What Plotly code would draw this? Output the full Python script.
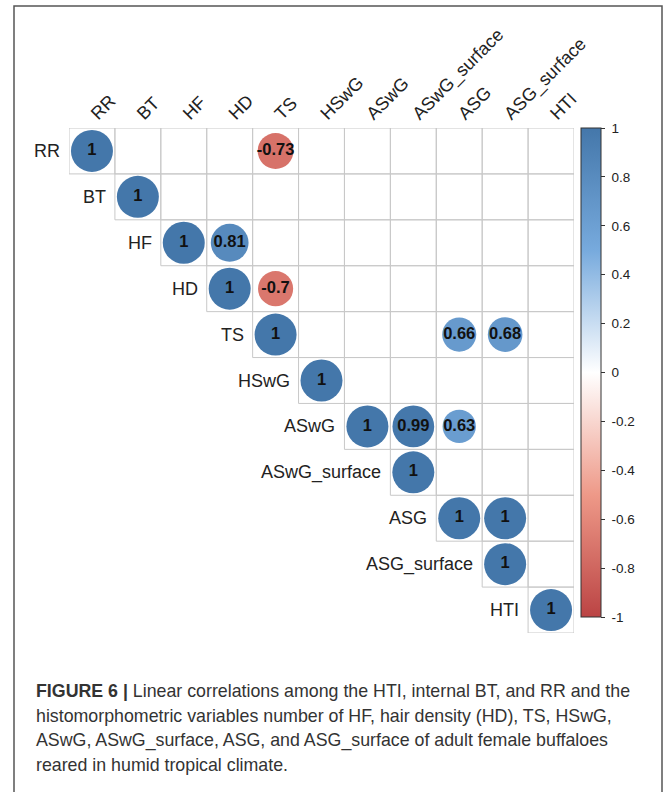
import math
import plotly.graph_objects as go

# Variable names (matrix order)
variables = ["RR", "BT", "HF", "HD", "TS", "HSwG", "ASwG", "ASwG_surface",
             "ASG", "ASG_surface", "HTI"]

# Significant correlations in the upper triangle (row variable, column variable, r)
row_var = ["RR", "RR", "BT", "HF", "HF", "HD", "HD", "TS", "TS", "TS",
           "HSwG", "ASwG", "ASwG", "ASwG", "ASwG_surface", "ASG", "ASG",
           "ASG_surface", "HTI"]
col_var = ["RR", "TS", "BT", "HF", "HD", "HD", "TS", "TS", "ASG", "ASG_surface",
           "HSwG", "ASwG", "ASwG_surface", "ASG", "ASwG_surface", "ASG",
           "ASG_surface", "ASG_surface", "HTI"]
coef = [1, -0.73, 1, 1, 0.81, 1, -0.7, 1, 0.66, 0.68,
        1, 1, 0.99, 0.63, 1, 1, 1, 1, 1]

# Colour bar ticks
cbar_vals = [1, 0.8, 0.6, 0.4, 0.2, 0, -0.2, -0.4, -0.6, -0.8, -1]
cbar_text = ["1", "0.8", "0.6", "0.4", "0.2", "0", "-0.2", "-0.4", "-0.6", "-0.8", "-1"]

caption_lines = [
    "<b>FIGURE 6 |</b> Linear correlations among the HTI, internal BT, and RR and the",
    "histomorphometric variables number of HF, hair density (HD), TS, HSwG,",
    "ASwG, ASwG_surface, ASG, and ASG_surface of adult female buffaloes",
    "reared in humid tropical climate.",
]

W, H = 672, 792
# Plot area (the correlation grid) in page pixels
L, R, T, B = 69, 574, 128, 633
PW, PH = R - L, B - T
FONT = "Liberation Sans, Arial, sans-serif"
colorscale = [[0.0, "#BB4444"], [0.25, "#EE9988"], [0.5, "#FFFFFF"],
              [0.75, "#77AADD"], [1.0, "#4477AA"]]


def px(xp):
    """Page x pixel -> paper fraction."""
    return (xp - L) / PW


def py(yp):
    """Page y pixel (from top) -> paper fraction."""
    return (B - yp) / PH


def fmt(v):
    return "1" if v == 1 else f"{v:g}"


full_diam = 42
sizes = [full_diam * math.sqrt(abs(v)) for v in coef]

fig = go.Figure()
fig.add_trace(go.Scatter(
    x=col_var, y=row_var, mode="markers+text",
    text=[f"<b>{fmt(v)}</b>" for v in coef],
    textposition="middle center",
    textfont=dict(family=FONT, size=16.5, color="#111111"),
    marker=dict(
        size=sizes, color=coef, colorscale=colorscale, cmin=-1, cmax=1,
        opacity=1, line=dict(width=0),
        colorbar=dict(
            thickness=20, thicknessmode="pixels",
            len=489, lenmode="pixels",
            x=px(581), xanchor="left", xpad=0,
            y=py(372.5), yanchor="middle", ypad=0,
            outlinewidth=1, outlinecolor="#333333",
            ticks="outside", ticklen=4, tickcolor="#333333",
            tickvals=cbar_vals,
            ticktext=["\u00a0" + t for t in cbar_text],
            tickfont=dict(family=FONT, size=13.5, color="#222222"),
        ),
    ),
    hoverinfo="skip", showlegend=False,
))

# Cell borders of the upper triangle
n = len(variables)
shapes = []
for i in range(n):
    for j in range(i, n):
        shapes.append(dict(type="rect", xref="x", yref="y",
                           x0=j - 0.5, x1=j + 0.5, y0=i - 0.5, y1=i + 0.5,
                           line=dict(color="#c8c8c8", width=1), layer="below"))

# Outer frame
shapes.append(dict(type="rect", xref="paper", yref="paper",
                   x0=px(14), x1=px(662), y0=py(820), y1=py(6),
                   line=dict(color="#555555", width=1.5)))

annotations = []
# Row labels next to the diagonal
for i, name in enumerate(variables):
    annotations.append(dict(x=i - 0.5, y=i, xref="x", yref="y", text=name,
                            showarrow=False, xanchor="right", yanchor="middle",
                            xshift=-7, font=dict(family=FONT, size=18, color="#222222")))

# Caption
cap_y = [691, 715.5, 740, 764.5]
for line, yy in zip(caption_lines, cap_y):
    annotations.append(dict(x=px(34), y=py(yy), xref="paper", yref="paper",
                            text=line, showarrow=False, xanchor="left",
                            yanchor="middle",
                            font=dict(family=FONT, size=17.8, color="#333333")))

fig.update_layout(
    width=W, height=H, autosize=False,
    margin=dict(l=L, r=W - R, t=T, b=H - B, pad=0),
    paper_bgcolor="white", plot_bgcolor="white",
    xaxis=dict(domain=[0, 1], range=[-0.5, n - 0.5],
               type="category", categoryorder="array", categoryarray=variables,
               side="top", tickangle=-45, ticks="", showgrid=False,
               zeroline=False, showline=False, automargin=False,
               tickfont=dict(family=FONT, size=18, color="#222222")),
    yaxis=dict(domain=[0, 1], range=[n - 0.5, -0.5],
               type="category", categoryorder="array", categoryarray=variables,
               showticklabels=False, showgrid=False, zeroline=False,
               showline=False, ticks="", automargin=False),
    shapes=shapes, annotations=annotations,
)

fig.write_html("out.html")
